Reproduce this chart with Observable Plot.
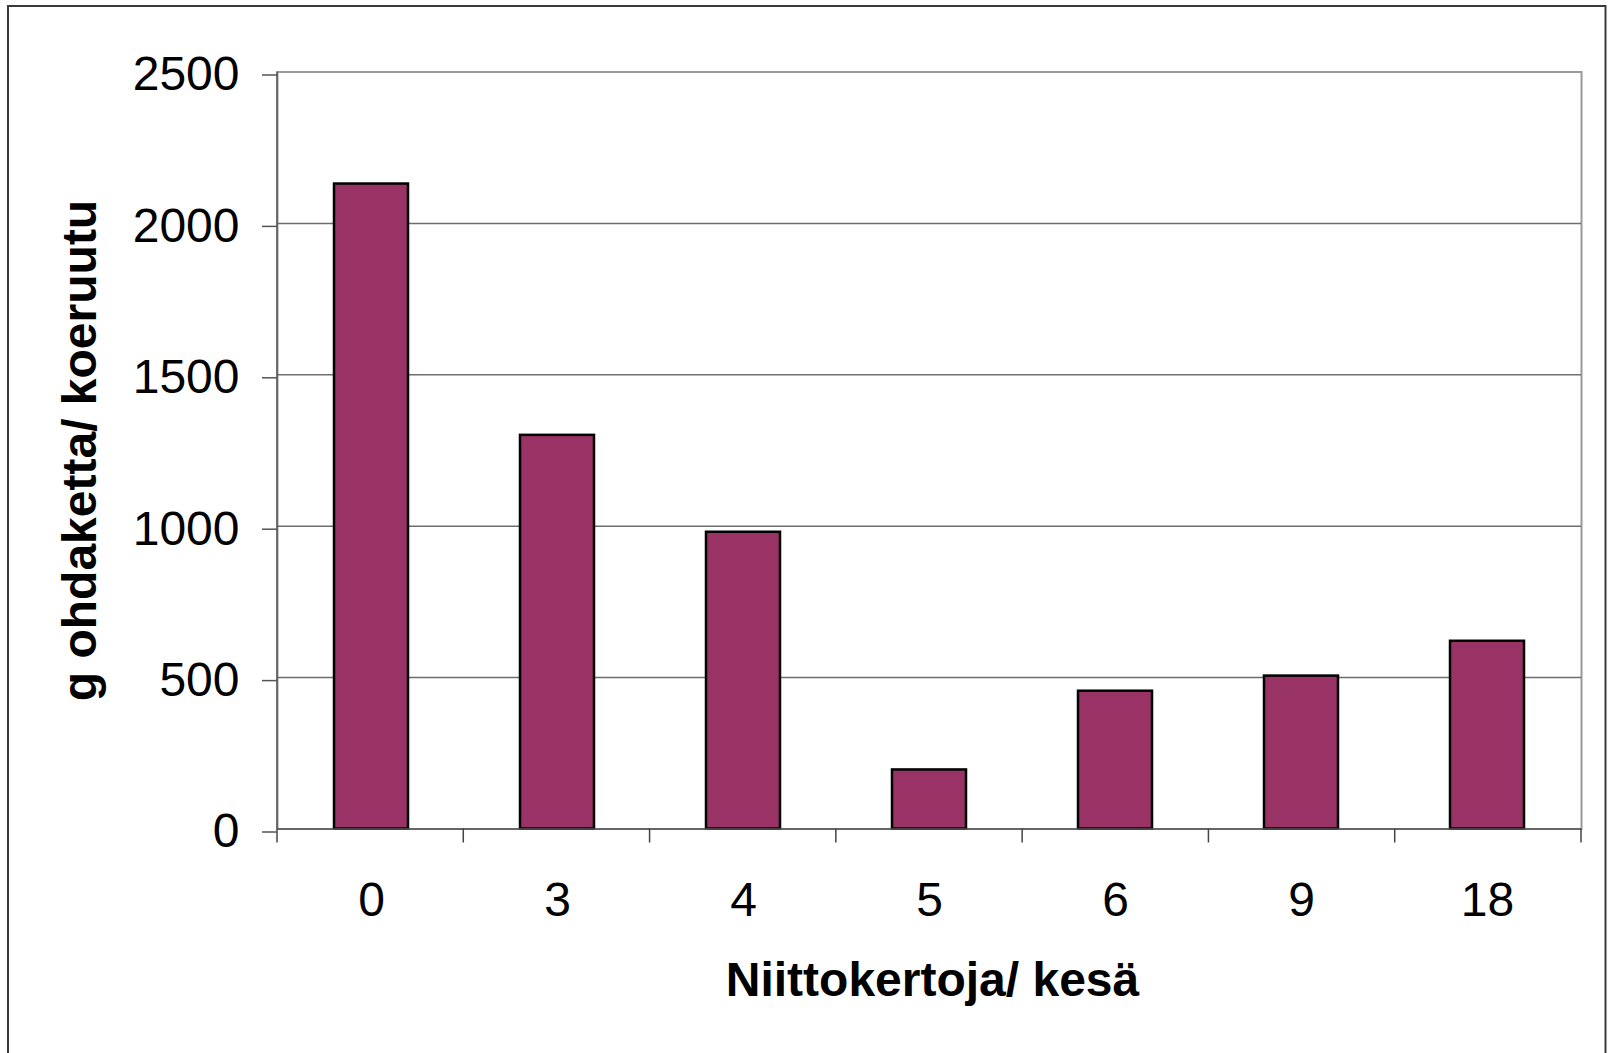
<!DOCTYPE html>
<html>
<head>
<meta charset="utf-8">
<script src="https://cdn.jsdelivr.net/npm/d3@7"></script>
<script src="https://cdn.jsdelivr.net/npm/@observablehq/plot@0.6"></script>
<style>
  html, body { margin: 0; padding: 0; background: #fff; }
  #chart svg { display: block; }
</style>
</head>
<body>
<div id="chart"></div>
<script>
// Mowing frequency per summer (categories) and thistle biomass per plot (grams)
const categories = ["0", "3", "4", "5", "6", "9", "18"];
const values = [2130, 1300, 980, 195, 455, 505, 620];
const yTicks = [0, 500, 1000, 1500, 2000, 2500];
const gridValues = [500, 1000, 1500, 2000];
const xTitle = "Niittokertoja/ kesä";
const yTitle = "g ohdaketta/ koeruutu";

const data = categories.map((c, i) => ({category: c, value: values[i]}));

const W = 1608, H = 1053;
const margin = {left: 277, right: 27, top: 71.5, bottom: 224.5};

// Left axis line and tick marks on the category boundaries
function categoryAxis(index, scales, vals, dims) {
  const n = categories.length;
  const x0 = dims.marginLeft;
  const step = (dims.width - dims.marginLeft - dims.marginRight) / n;
  const y0 = scales.y(0);
  const yTop = scales.y(yTicks[yTicks.length - 1]);
  const g = d3.create("svg:g");
  g.append("line")
    .attr("x1", x0).attr("x2", x0)
    .attr("y1", yTop).attr("y2", y0)
    .attr("stroke", "#555").attr("stroke-width", 1.5);
  g.selectAll("line.tick").data(d3.range(n + 1)).join("line")
    .attr("class", "tick")
    .attr("x1", i => x0 + i * step).attr("x2", i => x0 + i * step)
    .attr("y1", y0).attr("y2", y0 + 14)
    .attr("stroke", "#444").attr("stroke-width", 1.5);
  return g.node();
}

// Outer chart-area border
function outerBorder(index, scales, vals, dims) {
  return d3.create("svg:rect")
    .attr("x", 8).attr("y", 6)
    .attr("width", dims.width - 10.5).attr("height", dims.height + 20)
    .attr("fill", "none").attr("stroke", "#3a3a3a").attr("stroke-width", 2)
    .node();
}

const chart = Plot.plot({
  width: W,
  height: H,
  marginLeft: margin.left,
  marginRight: margin.right,
  marginTop: margin.top,
  marginBottom: margin.bottom,
  style: {fontFamily: "'Liberation Sans', Arial, sans-serif", color: "#000", background: "#fff"},
  x: {type: "band", domain: categories, paddingInner: 0.6, paddingOuter: 0.3, axis: null},
  y: {domain: [0, 2500], axis: null},
  marks: [
    outerBorder,
    Plot.frame({stroke: "#9a9a9a", strokeWidth: 2}),
    Plot.ruleY(gridValues, {stroke: "#6e6e6e", strokeWidth: 1.5}),
    Plot.barY(data, {x: "category", y: "value", fill: "#993366", stroke: "#000", strokeWidth: 2.5}),
    Plot.ruleY([0], {stroke: "#555", strokeWidth: 1.5}),
    categoryAxis,
    Plot.axisY(yTicks, {
      tickSize: 15, tickPadding: 23, fontSize: 48, stroke: "#555", strokeWidth: 1.5,
      tickFormat: d => String(d), label: null, dy: 3
    }),
    Plot.axisX({tickSize: 0, tickPadding: 53, fontSize: 48, label: null}),
    Plot.text([xTitle], {
      frameAnchor: "bottom", dy: 152, dx: 3, lineAnchor: "middle",
      fontSize: 48, fontWeight: "bold", fill: "#000"
    }),
    Plot.text([yTitle], {
      frameAnchor: "left", dx: -197, rotate: -90, textAnchor: "middle", lineAnchor: "middle",
      fontSize: 48, fontWeight: "bold", fill: "#000"
    })
  ]
});

document.getElementById("chart").appendChild(chart);
</script>
</body>
</html>
